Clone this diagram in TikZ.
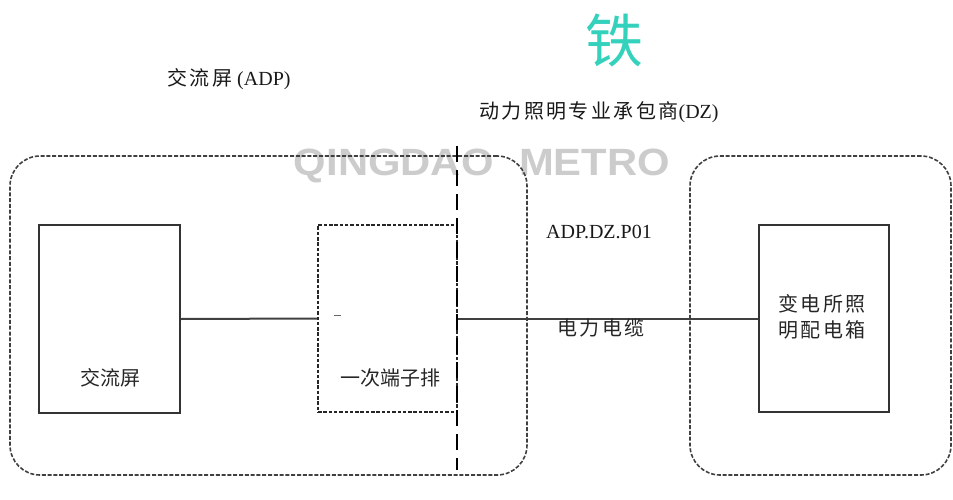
\documentclass[tikz,border=0pt]{standalone}
\usepackage{fontspec}
\setmainfont{Liberation Serif}
\newfontfamily\cjk{Noto Sans CJK SC}
\newfontfamily\cjkw[LetterSpace=12]{Noto Sans CJK SC}
\newfontfamily\wm{Liberation Sans}
\begin{document}
\begin{tikzpicture}[x=1pt,y=-1pt,
  zone/.style={draw=black!75, line width=1.6pt, dash pattern=on 4pt off 1.8pt, rounded corners=30pt, inner sep=0pt},
  solidbox/.style={draw=black!80, line width=2pt, inner sep=0pt},
  dashbox/.style={draw=black!85, line width=2pt, dash pattern=on 3.5pt off 1.8pt, inner sep=0pt},
  wire/.style={draw=black!75, line width=2pt},
  divider/.style={draw=black, line width=2.6pt, dash pattern=on 16pt off 8pt},
  lbl/.style={font=\fontsize{20}{22}\selectfont\cjk, text=black!85, inner sep=0pt},
  lat/.style={font=\fontsize{20}{24}\selectfont, text=black!90, inner sep=0pt}]
\useasboundingbox (0,0) rectangle (953,500);
% watermark-like texts
\node[inner sep=0pt, text={rgb,255:red,52;green,210;blue,188}, font=\fontsize{58}{60}\selectfont\cjk] (tie) at (614,40) {铁};
\node[inner sep=0pt, text=black!20, font=\fontsize{38}{40}\selectfont\wm\bfseries, xscale=1.1] (wmk) at (482,166) {QINGDAO\,\, METRO};
% zones
\node[zone, minimum width=517pt, minimum height=319pt] (lz) at (268.5,315.5) {};
\node[zone, minimum width=261pt, minimum height=319pt] (rz) at (820.5,315.5) {};
% titles
\node[lat] (t1) at (229,79) {{\cjkw 交流屏} (ADP)};
\node[lat] (t2) at (599,112) {{\cjkw 动力照明专业承包商}(DZ)};
% boxes
\node[solidbox, minimum width=141pt, minimum height=188pt] (acp) at (109.5,319) {};
\node[lbl] (acpt) at (110,378) {交流屏};
\node[dashbox, minimum width=139pt, minimum height=187pt] (tb) at (387.5,318.5) {};
\node[lbl] (tbt) at (390,378) {一次端子排};
\node[solidbox, minimum width=130pt, minimum height=187pt] (dx) at (824,318.5) {};
\node[lbl, align=center, font=\fontsize{20}{26}\selectfont\cjkw] (dxt) at (822,317) {变电所照\\明配电箱};
% divider
\coordinate (dtop) at (457,146);
\coordinate (dbot) at (457,470);
\draw[divider] (dtop) -- (dbot);
% connectors
\draw[wire] (acp.east) -- (tb.west);
\draw[wire] (tb.east) -- (dx.west);
\coordinate (m1) at (334,315);
\coordinate (m2) at (341,315);
\draw[black!60, line width=1pt] (m1) -- (m2);
% labels
\node[lat] (code) at (599,232) {ADP.DZ.P01};
\node[lbl, font=\fontsize{20}{22}\selectfont\cjkw] (cab) at (601,328) {电力电缆};
\end{tikzpicture}
\end{document}
